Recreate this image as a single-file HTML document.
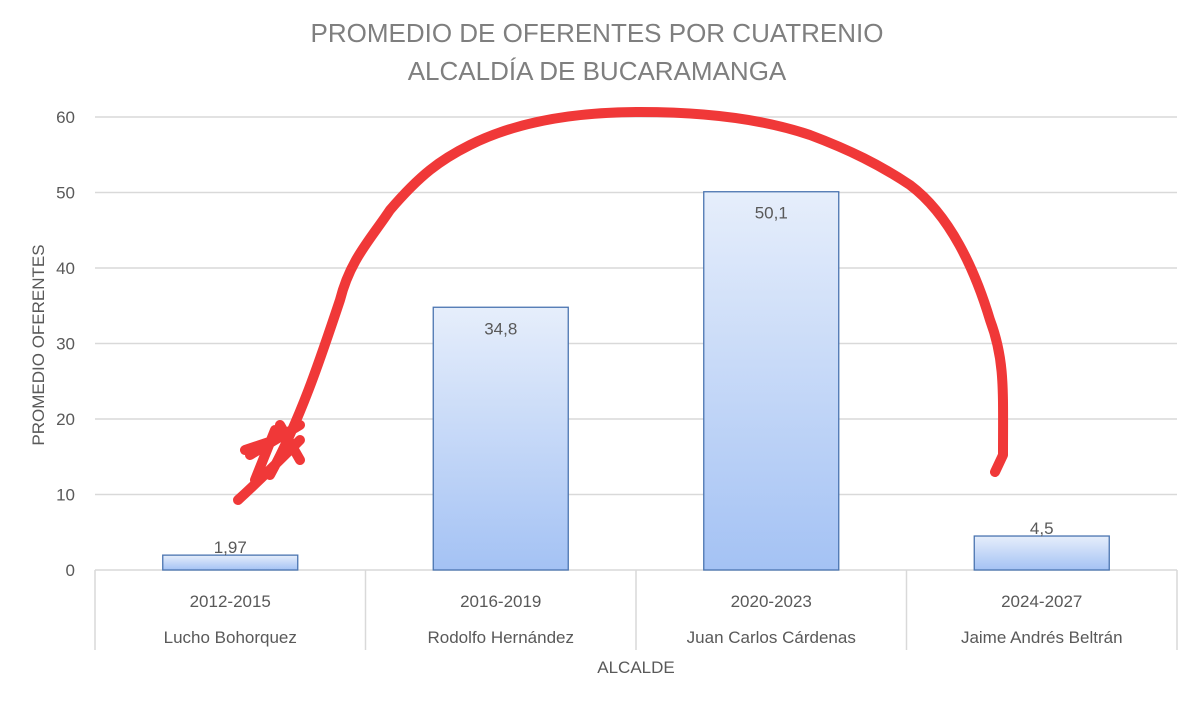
<!DOCTYPE html>
<html><head><meta charset="utf-8"><style>
body{margin:0;background:#fff;}
svg{display:block;font-family:"Liberation Sans",sans-serif;}
</style></head><body>
<svg id="c" width="1200" height="701" viewBox="0 0 1200 701">
<defs><linearGradient id="g" x1="0" y1="0" x2="0" y2="1"><stop offset="0" stop-color="#e6eefb"/><stop offset="1" stop-color="#a4c2f4"/></linearGradient></defs>
<text x="597" y="42" text-anchor="middle" font-size="26" fill="#7f7f7f">PROMEDIO DE OFERENTES POR CUATRENIO</text>
<text x="597" y="80" text-anchor="middle" font-size="26" fill="#7f7f7f">ALCALDÍA DE BUCARAMANGA</text>
<text transform="translate(44,345) rotate(-90)" text-anchor="middle" font-size="17" fill="#595959">PROMEDIO OFERENTES</text>
<text x="636" y="673" text-anchor="middle" font-size="17" fill="#595959">ALCALDE</text>
<g id="grid"></g><g id="bars"></g><g id="xax"></g>
<path d="M238,500 C260,480 280,460 300,440 M250,455 L300,425 M245,450 L275,440 M255,480 L275,430 M280,425 L300,460 M270,475 C300,420 320,360 340,300 C350,260 370,240 390,210 C420,175 440,160 470,145 C520,120 580,112 640,112 C700,112 760,118 810,135 C850,150 880,165 910,185 C950,215 975,270 990,320 C1005,360 1003,390 1003,455 L995,472" stroke="#f03838" stroke-width="10" fill="none" stroke-linecap="round" stroke-linejoin="round"/>
</svg>
<script>
const categories=["2012-2015","2016-2019","2020-2023","2024-2027"];
const names=["Lucho Bohorquez","Rodolfo Hernández","Juan Carlos Cárdenas","Jaime Andrés Beltrán"];
const values=[1.97,34.8,50.1,4.5];
const labels=["1,97","34,8","50,1","4,5"];
const ticks=[0,10,20,30,40,50,60];
const NS="http://www.w3.org/2000/svg";
const x0=95,x1=1177,y0=570,y60=117;
const y=v=>y0-(v/60)*(y0-y60);
const bw=(x1-x0)/categories.length;
function mk(t,a,p){const e=document.createElementNS(NS,t);for(const k in a)e.setAttribute(k,a[k]);p.appendChild(e);return e;}
const grid=document.getElementById('grid'),bars=document.getElementById('bars'),xax=document.getElementById('xax');
ticks.forEach(t=>{
 const l=mk('line',{x1:x0,x2:x1,y1:y(t),y2:y(t),stroke:'#d9d9d9','stroke-width':1.5},grid);
 
 
 const tx=mk('text',{x:75,y:y(t)+6,'text-anchor':'end','font-size':17,fill:'#595959'},grid);tx.textContent=t;
 
 
});
values.forEach((v,i)=>{
 const cx=x0+bw*(i+0.5),w=135;
 const r=mk('rect',{x:cx-w/2,y:y(v),width:w,height:y0-y(v),fill:'url(#g)',stroke:'#4a74b0','stroke-width':1.3},bars);
 
 
 const lt=mk('text',{x:cx,y:(v<10?y(v)-2:y(v)+27),'text-anchor':'middle','font-size':17,fill:'#595959'},bars);lt.textContent=labels[i];
 
 
 const a=mk('text',{x:cx,y:607,'text-anchor':'middle','font-size':17,fill:'#595959'},xax);a.textContent=categories[i];
 
 
 const b=mk('text',{x:cx,y:643,'text-anchor':'middle','font-size':17,fill:'#595959'},xax);b.textContent=names[i];
 
 
});
for(let i=0;i<=categories.length;i++){
 const s=mk('line',{x1:x0+bw*i,x2:x0+bw*i,y1:y0,y2:650,stroke:'#d9d9d9','stroke-width':1.5},xax);
 
 
}
</script>
</body></html>
